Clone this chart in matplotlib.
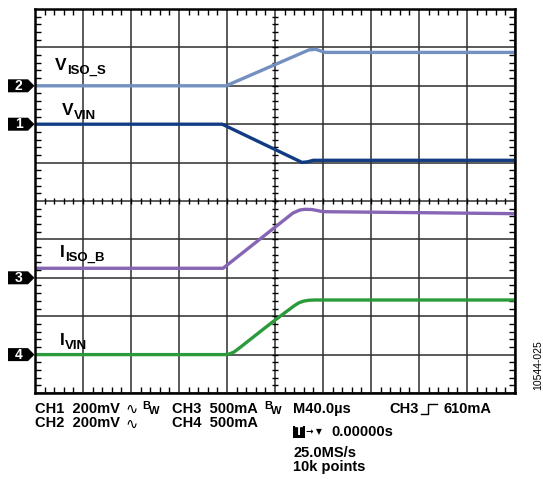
import matplotlib
matplotlib.use("Agg")
import matplotlib.pyplot as plt
from matplotlib.lines import Line2D
from matplotlib.patches import Polygon, Rectangle
from matplotlib.ticker import MultipleLocator
import matplotlib.transforms as mtransforms
import numpy as np

plt.rcParams['font.family'] = ['Liberation Sans', 'DejaVu Sans']

W, H = 543, 479

# Time base: 40 us/div, trigger at screen centre
TIME_PER_DIV = 40.0

# Channel settings: (mV or mA per div, ground marker position in divisions)
CH1_SCALE, CH1_POS = 200.0, 2.0    # mV/div
CH2_SCALE, CH2_POS = 200.0, 3.0    # mV/div
CH3_SCALE, CH3_POS = 500.0, -2.0   # mA/div
CH4_SCALE, CH4_POS = 500.0, -4.0   # mA/div

# CH2: V_ISO_S (mV)
t_viso_s = [-200, -40.8, 28.3, 34.0, 41.7, 200]
viso_s_mv = [0, 0, 187, 190, 174, 174]

# CH1: V_VIN (mV)
t_vvin = [-200, -44.0, 22.5, 27.0, 32.0, 200]
vvin_mv = [0, 0, -199, -196, -188, -188]

# CH3: I_ISO_B (mA)
t_iiso_b = [-200, -43.3, 15.0, 20.8, 25.0, 30.8, 40.0, 120.8, 200]
iiso_b_ma = [124, 124, 844, 883, 892, 889, 861, 848, 835]

# CH4: I_VIN (mA)
t_ivin = [-200, -42, -38, -34, -30, -20, -10, 0, 10, 16, 20, 24, 28, 33, 200]
ivin_ma = [0, 0, 8, 35, 82, 205, 328, 449, 566, 636, 675, 697, 707, 711, 711]

fig = plt.figure(figsize=(W / 100, H / 100), dpi=100)
fig.patch.set_facecolor('white')

L, R, T, B = 35, 515, 9, 393
ax = fig.add_axes([L / W, 1 - B / H, (R - L) / W, (B - T) / H])
ax.set_xlim(-5 * TIME_PER_DIV, 5 * TIME_PER_DIV)
ax.set_ylim(-5, 5)


def to_div(vals, scale, pos):
    return pos + np.asarray(vals, dtype=float) / scale


traces = [
    (t_viso_s, to_div(viso_s_mv, CH2_SCALE, CH2_POS), '#7390c0'),
    (t_vvin, to_div(vvin_mv, CH1_SCALE, CH1_POS), '#123c82'),
    (t_iiso_b, to_div(iiso_b_ma, CH3_SCALE, CH3_POS), '#8666b4'),
    (t_ivin, to_div(ivin_ma, CH4_SCALE, CH4_POS), '#2b9a3b'),
]

# graticule
ax.set_xticks(np.arange(-200, 201, TIME_PER_DIV))
ax.set_yticks(np.arange(-5, 6, 1))
ax.grid(True, color='#2e2e2e', lw=1.1, zorder=1)
ax.xaxis.set_minor_locator(MultipleLocator(TIME_PER_DIV / 5))
ax.yaxis.set_minor_locator(MultipleLocator(0.2))
ax.tick_params(which='major', length=0, labelbottom=False, labelleft=False)
ax.tick_params(which='minor', direction='in', length=4.5, width=1.0, color='black',
               top=True, bottom=True, left=True, right=True)
for s in ax.spines.values():
    s.set_linewidth(1.8)
    s.set_color('black')
    s.set_zorder(5)

# centre cross-hair ticks
xm = np.arange(-200, 201, TIME_PER_DIV / 5)
ym = np.arange(-5, 5.01, 0.2)
ax.plot(np.zeros_like(ym), ym, ls='none', marker='_', ms=4, mew=1.0, color='black', zorder=2)
ax.plot(xm, np.zeros_like(xm), ls='none', marker='|', ms=4, mew=1.0, color='black', zorder=2)

for t, y, c in traces:
    ax.plot(t, y, color=c, lw=2.4, solid_joinstyle='round', solid_capstyle='butt', zorder=3)

# channel ground markers
blend = mtransforms.blended_transform_factory(fig.transFigure, ax.transData)
for label, pos in [('2', CH2_POS), ('1', CH1_POS), ('3', CH3_POS), ('4', CH4_POS)]:
    h = 6.5 / 38.4
    x0, x1, x2 = 8 / W, 28 / W, 34.5 / W
    poly = Polygon([[x0, pos - h], [x1, pos - h], [x2, pos], [x1, pos + h], [x0, pos + h]],
                   closed=True, facecolor='black', edgecolor='none',
                   transform=blend, clip_on=False)
    fig.add_artist(poly)
    fig.text(18.5 / W, pos, label, transform=blend, color='white', fontsize=10,
             fontweight='bold', ha='center', va='center')


def label_sub(x, y, main, sub, size=12.5, subsize=9.5, drop=4.0):
    t1 = fig.text(x / W, 1 - y / H, main, fontsize=size, fontweight='bold',
                  ha='left', va='baseline')
    fig.canvas.draw()
    bb = t1.get_window_extent()
    fig.text(bb.x1 / W, 1 - (y + drop) / H, sub, fontsize=subsize,
             fontweight='bold', ha='left', va='baseline')


label_sub(55, 70, 'V', 'ISO_S')
label_sub(62, 115, 'V', 'VIN')
label_sub(60, 257, 'I', 'ISO_B')
label_sub(60, 345, 'I', 'VIN')


def ftext(x, y, s, size=10.5, **kw):
    kw.setdefault('fontweight', 'bold')
    kw.setdefault('va', 'center')
    kw.setdefault('ha', 'left')
    return fig.text(x / W, 1 - y / H, s, fontsize=size, **kw)


y1, y2, y3, y4, y5 = 409, 423, 432, 453, 467
ftext(35, y1, 'CH1  200mV')
ftext(125, y1, '\u223f', size=10.5, fontweight='normal', family=['DejaVu Sans'])
ftext(142, y1 - 3, 'B', size=8)
ftext(149, y1 + 2, 'W', size=8)
ftext(172, y1, 'CH3  500mA')
ftext(264, y1 - 3, 'B', size=8)
ftext(271, y1 + 2, 'W', size=8)
ftext(293, y1, 'M40.0\u00b5s')
ftext(389, y1, 'CH3')
ftext(443, y1, '610mA')
edge = Line2D(np.array([421, 428, 428, 437]) / W,
              1 - np.array([414, 414, 404, 404]) / H,
              transform=fig.transFigure, color='black', lw=1.0)
fig.add_artist(edge)

ftext(35, y2, 'CH2  200mV')
ftext(125, y2 + 1, '\u223f', size=10.5, fontweight='normal', family=['DejaVu Sans'])
ftext(172, y2, 'CH4  500mA')

fig.add_artist(Rectangle((293 / W, 1 - 438 / H), 12 / W, 12 / H, transform=fig.transFigure,
                         facecolor='black', edgecolor='none'))
ftext(299, y3, 'T', size=9.5, color='white', ha='center')
ftext(306, y3, '\u2192', size=6.5, family=['DejaVu Sans'])
ftext(316, y3, '\u25bc', size=5.5, family=['DejaVu Sans'], fontweight='normal')
ftext(331, y3, '0.00000s')
ftext(293, y4, '25.0MS/s')
ftext(293, y5, '10k points')

fig.text(538 / W, 1 - 365 / H, '10544-025', fontsize=7.5, rotation=90,
         ha='center', va='center')

fig.savefig('out.png', dpi=100)
